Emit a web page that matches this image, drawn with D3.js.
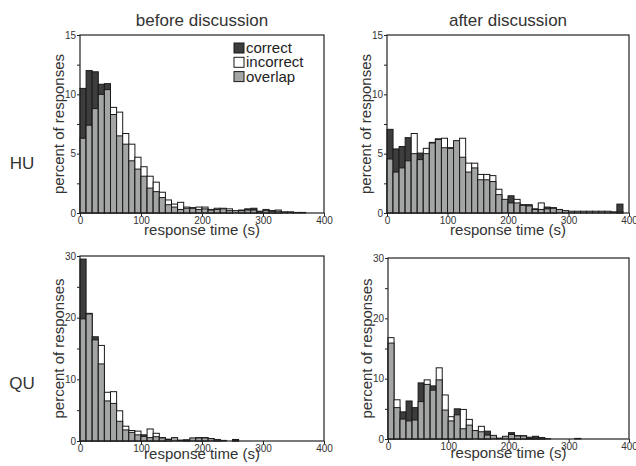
<!DOCTYPE html>
<html><head><meta charset="utf-8">
<script src="https://cdn.jsdelivr.net/npm/d3@7"></script>
<style>
html,body{margin:0;padding:0;background:#fff;}
svg{display:block;font-family:"Liberation Sans",Arial,Helvetica,sans-serif;}
</style></head>
<body><svg id="c" width="636" height="466"></svg>
<script>
// bin starts (seconds), 10 s bins
const binStarts = d3.range(0, 400, 10);
const columnTitles = ["before discussion", "after discussion"];
const rowTitles = ["HU", "QU"];
const legendLabels = ["correct", "incorrect", "overlap"];
const xTicks = [0, 100, 200, 300, 400];
const yTicksHU = [0, 5, 10, 15];
const yMinorHU = [2.5, 7.5, 12.5];
const yTicksQU = [0, 10, 20, 30];
const yMinorQU = [5, 15, 25];

// percent of responses per bin: correct / incorrect
const huBeforeCorrect = [10.5,12.0,11.9,10.85,10.9,8.3,6.5,5.8,4.4,3.7,3.1,2.1,1.8,1.3,0.7,0.5,0.3,0.4,0.45,0.3,0.35,0.25,0.3,0.35,0.2,0.2,0.25,0.35,0.4,0.15,0.2,0.2,0.15,0.1,0.1,0.05,0.05,0,0,0];
const huBeforeIncorrect = [6.3,7.4,8.8,10.0,10.4,8.9,8.5,6.7,5.8,4.7,3.9,3.1,2.6,1.75,1.1,0.75,0.9,0.5,0.4,0.5,0.5,0.3,0.4,0.4,0.35,0.2,0.2,0.25,0.25,0.1,0.3,0.15,0.25,0.1,0.1,0.05,0,0,0,0];
const huAfterCorrect = [7.05,5.4,5.6,6.35,5.0,5.05,5.0,5.95,6.25,5.5,5.5,6.1,4.7,3.45,3.8,2.8,2.8,2.65,1.55,1.15,1.45,0.85,0.7,0.7,0.35,0.3,0.5,0.45,0.3,0.2,0.15,0.15,0.15,0.15,0.15,0.15,0.15,0.1,0.75,0];
const huAfterIncorrect = [4.55,3.45,3.8,4.4,6.7,4.5,5.45,5.9,6.2,6.3,5.45,6.1,6.3,4.2,4.2,3.25,3.25,3.15,2.0,1.15,0.85,1.15,0.65,0.6,0.3,0.85,0.35,0.4,0.3,0.2,0.15,0.15,0.15,0.15,0.15,0.15,0.15,0.1,0.1,0];
const quBeforeCorrect = [29.5,20.7,16.9,12.5,6.5,6.1,3.2,1.8,1.4,1.0,1.0,0.55,0.7,0.55,0.3,0.55,0.15,0.2,0.5,0.5,0.55,0.4,0.25,0.1,0,0.25,0,0,0,0,0,0,0,0,0,0,0,0,0,0];
const quBeforeIncorrect = [19.8,20.6,16.4,15.5,7.9,8.0,4.9,2.4,1.7,1.6,0.75,1.95,1.25,0.5,0.25,0.55,0.15,0.1,0.5,0.55,0.5,0.4,0.2,0.1,0,0.1,0,0,0,0,0,0,0,0,0,0,0,0,0,0];
const quAfterCorrect = [15.9,5.2,4.5,6.3,5.2,9.3,9.05,8.8,9.8,4.8,3.0,5.0,1.7,2.3,1.4,1.2,1.3,0.6,0.15,0.45,1.05,0.55,0.5,0.3,0.45,0.25,0.05,0,0,0,0,0.1,0,0,0,0,0,0,0,0];
const quAfterIncorrect = [16.8,6.5,3.3,3.0,3.15,6.2,9.8,8.1,11.8,7.3,3.7,4.0,4.9,3.25,1.4,2.1,0.65,0.6,0.15,0.45,0.75,0.5,0.55,0.1,0.2,0.2,0,0,0,0,0,0,0,0,0,0,0,0,0,0];

const DARK = "#3d3d3d", GRAY = "#a3a6a4", WHITE = "#ffffff", LINE = "#1a1a1a", TXT = "#333";

const panels = [
  {c: huBeforeCorrect, i: huBeforeIncorrect, x0: 80, x1: 324, y0: 35, y1: 213, ymax: 15, yt: yTicksHU, ym: yMinorHU, legend: true, xlab: 22},
  {c: huAfterCorrect, i: huAfterIncorrect, x0: 387, x1: 629, y0: 35, y1: 213, ymax: 15, yt: yTicksHU, ym: yMinorHU, xlab: 22},
  {c: quBeforeCorrect, i: quBeforeIncorrect, x0: 80, x1: 324, y0: 256, y1: 441, ymax: 30, yt: yTicksQU, ym: yMinorQU, xlab: 18},
  {c: quAfterCorrect, i: quAfterIncorrect, x0: 388, x1: 629, y0: 258, y1: 439, ymax: 30, yt: yTicksQU, ym: yMinorQU, xlab: 19}
];

const svg = d3.select("#c");

panels.forEach(p => {
  const x = d3.scaleLinear().domain([0, 400]).range([p.x0, p.x1]);
  const y = d3.scaleLinear().domain([0, p.ymax]).range([p.y1, p.y0]);
  const g = svg.append("g");
  const data = binStarts.map((b, k) => ({b, c: p.c[k], i: p.i[k]}));

  // bars: taller series first, then overlap
  const bars = g.append("g");
  data.forEach(d => {
    const hi = Math.max(d.c, d.i), lo = Math.min(d.c, d.i);
    if (hi <= 0) return;
    if (hi > lo) {
      bars.append("rect")
        .attr("x", x(d.b)).attr("width", x(d.b + 10) - x(d.b))
        .attr("y", y(hi)).attr("height", y(0) - y(hi))
        .attr("fill", d.c > d.i ? DARK : WHITE)
        .attr("stroke", LINE).attr("stroke-width", 1);
    }
    if (lo > 0) {
      bars.append("rect")
        .attr("x", x(d.b)).attr("width", x(d.b + 10) - x(d.b))
        .attr("y", y(lo)).attr("height", y(0) - y(lo))
        .attr("fill", GRAY)
        .attr("stroke", LINE).attr("stroke-width", 1);
    }
  });

  // frame
  g.append("rect").attr("x", p.x0).attr("y", p.y0)
    .attr("width", p.x1 - p.x0).attr("height", p.y1 - p.y0)
    .attr("fill", "none").attr("stroke", "#222").attr("stroke-width", 1.2);

  // axes
  const ax = g.append("g").attr("transform", `translate(0,${p.y1})`)
    .call(d3.axisBottom(x).tickValues(xTicks).tickSize(3).tickPadding(1));
  const ay = g.append("g").attr("transform", `translate(${p.x0},0)`)
    .call(d3.axisLeft(y).tickValues(p.yt).tickSize(3).tickPadding(1));
  const aym = g.append("g").attr("transform", `translate(${p.x0},0)`)
    .call(d3.axisLeft(y).tickValues(p.ym).tickSize(3).tickFormat(""));
  [ax, ay, aym].forEach(a => {
    a.select(".domain").remove();
    a.selectAll("line").attr("stroke", "#222");
    a.selectAll("text").attr("fill", TXT).style("font-size", "10px")
      .style("font-family", '"Liberation Sans",Arial,sans-serif');
  });

  // axis titles
  g.append("text").attr("x", (p.x0 + p.x1) / 2).attr("y", p.y1 + p.xlab)
    .attr("text-anchor", "middle").attr("fill", TXT).style("font-size", "15px")
    .text("response time (s)");
  g.append("text")
    .attr("transform", `translate(${p.x0 - 16},${(p.y0 + p.y1) / 2}) rotate(-90)`)
    .attr("text-anchor", "middle").attr("fill", TXT).style("font-size", "15px")
    .text("percent of responses");

  if (p.legend) {
    const fills = [DARK, WHITE, GRAY];
    const lg = g.append("g");
    legendLabels.forEach((t, k) => {
      const cy = 48 + k * 14.3;
      lg.append("rect").attr("x", 234).attr("y", cy - 5).attr("width", 10).attr("height", 10)
        .attr("fill", fills[k]).attr("stroke", LINE).attr("stroke-width", 1);
      lg.append("text").attr("x", 246).attr("y", cy + 5).attr("fill", "#222")
        .style("font-size", "15px").text(t);
    });
  }
});

// column and row titles
const colCenters = [(panels[0].x0 + panels[0].x1) / 2, (panels[1].x0 + panels[1].x1) / 2];
columnTitles.forEach((t, k) => {
  svg.append("text").attr("x", colCenters[k]).attr("y", 26)
    .attr("text-anchor", "middle").attr("fill", TXT).style("font-size", "17px").text(t);
});
const rowCenters = [(panels[0].y0 + panels[0].y1) / 2 + 39, (panels[2].y0 + panels[2].y1) / 2 + 34];
rowTitles.forEach((t, k) => {
  svg.append("text").attr("x", 22).attr("y", rowCenters[k] + 6)
    .attr("text-anchor", "middle").attr("fill", TXT).style("font-size", "17px").text(t);
});
</script></body></html>
